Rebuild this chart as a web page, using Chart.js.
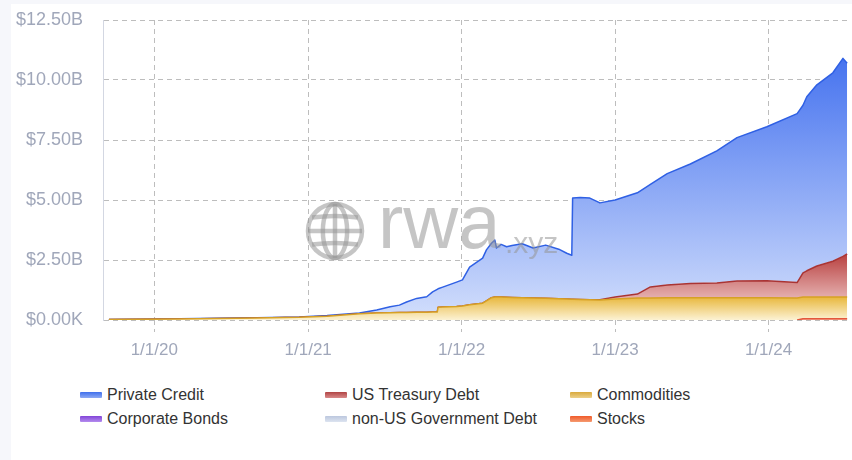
<!DOCTYPE html>
<html>
<head>
<meta charset="utf-8">
<title>RWA market cap</title>
<script src="https://cdn.jsdelivr.net/npm/chart.js@4.4.1/dist/chart.umd.min.js"></script>
<style>
  html, body { margin: 0; padding: 0; background: #f6f7fb; }
  body { width: 852px; height: 460px; overflow: hidden; position: relative; font-family: "Liberation Sans", Arial, sans-serif; }
  #card { position: absolute; left: 11px; top: 4px; right: 0; bottom: 0; background: #fff; }
  #chart { position: absolute; left: 0; top: 0; }
  #legend { position: absolute; left: 69px; top: 382px; display: grid; grid-template-columns: 245px 245px 245px; row-gap: 6px; }
  .item { display: flex; align-items: center; height: 18px; font-size: 16px; color: #333; white-space: nowrap; }
  .sw { width: 22px; height: 6px; margin-right: 5px; border-radius: 1px; }
</style>
</head>
<body>
<div id="card">
  <canvas id="chart" width="841" height="366"></canvas>
  <div id="legend"></div>
</div>
<script>
// snapshot dates (shared x values so the series can be stacked)
const dates = [
  "2019-09-15", "2019-12-01", "2020-03-01", "2020-06-01", "2020-09-01", "2020-12-11",
  "2021-02-15", "2021-05-03", "2021-06-13", "2021-07-15", "2021-08-06", "2021-08-23",
  "2021-09-16", "2021-10-10", "2021-10-24", "2021-11-04", "2021-11-06", "2021-11-17",
  "2021-12-20", "2022-01-03", "2022-01-20", "2022-02-20", "2022-03-01", "2022-03-13",
  "2022-03-21", "2022-03-25", "2022-04-05", "2022-04-18", "2022-05-01", "2022-05-25",
  "2022-06-20", "2022-07-20", "2022-08-20", "2022-09-08", "2022-09-20", "2022-09-22",
  "2022-10-10", "2022-11-02", "2022-11-26", "2023-01-01", "2023-02-23", "2023-03-26",
  "2023-05-05", "2023-06-29", "2023-08-31", "2023-10-18", "2023-12-28", "2024-03-09",
  "2024-03-23", "2024-04-01", "2024-04-25", "2024-06-02", "2024-06-26", "2024-07-06"
];

// values in $B, one per date
const stocks = [
  0, 0, 0, 0, 0, 0, 0, 0, 0, 0, 0, 0, 0, 0, 0, 0, 0, 0,
  0, 0, 0, 0, 0, 0, 0, 0, 0, 0, 0, 0, 0, 0, 0, 0, 0, 0,
  0, 0, 0, 0, 0, 0, 0, 0, 0, 0, 0, 0, 0.05, 0.05, 0.05, 0.05, 0.05, 0.05
];
const corporateBonds = [
  0, 0, 0, 0, 0, 0, 0, 0, 0, 0, 0, 0, 0, 0, 0, 0, 0, 0,
  0, 0, 0, 0, 0, 0, 0, 0, 0, 0, 0, 0, 0, 0, 0, 0, 0, 0,
  0, 0, 0, 0, 0, 0, 0, 0, 0, 0, 0, 0, 0, 0, 0, 0, 0, 0
];
const commodities = [
  0.02, 0.03, 0.045, 0.06, 0.08, 0.11, 0.16, 0.26, 0.29, 0.30, 0.31, 0.31,
  0.32, 0.32, 0.33, 0.33, 0.53, 0.54, 0.56, 0.58, 0.64, 0.70, 0.80, 0.93,
  0.96, 0.96, 0.96, 0.95, 0.94, 0.93, 0.92, 0.91, 0.89, 0.87, 0.86, 0.86,
  0.85, 0.84, 0.83, 0.88, 0.92, 0.92, 0.93, 0.93, 0.93, 0.93, 0.93, 0.92,
  0.91, 0.91, 0.91, 0.91, 0.91, 0.91
];
const usTreasury = [
  0, 0, 0, 0, 0, 0, 0, 0, 0, 0, 0, 0, 0, 0, 0, 0, 0, 0,
  0, 0, 0, 0, 0, 0, 0, 0, 0, 0, 0, 0, 0, 0, 0, 0, 0, 0,
  0, 0, 0.01, 0.08, 0.16, 0.46, 0.53, 0.59, 0.61, 0.69, 0.71, 0.64,
  1.00, 1.09, 1.29, 1.49, 1.69, 1.79
];
const nonUsGov = [
  0, 0, 0, 0, 0, 0, 0, 0, 0, 0, 0, 0, 0, 0, 0, 0, 0, 0,
  0, 0, 0, 0, 0, 0, 0, 0, 0, 0, 0, 0, 0.02, 0.02, 0.02, 0.02, 0.02, 0.02,
  0.02, 0.02, 0.02, 0.02, 0.02, 0.02, 0.02, 0.02, 0.02, 0.02, 0.02, 0.02,
  0.02, 0.02, 0.02, 0.02, 0.02, 0.02
];
const privateCredit = [
  0, 0, 0.005, 0.01, 0.01, 0.02, 0.03, 0.03, 0.13, 0.25, 0.31, 0.44,
  0.58, 0.65, 0.84, 0.95, 0.77, 0.83, 1.02, 1.09, 1.56, 1.88, 2.12, 2.27,
  2.37, 2.04, 2.19, 2.10, 2.16, 2.25, 2.06, 2.19, 2.04, 1.89, 1.82, 4.20,
  4.23, 4.22, 4.02, 4.02, 4.20, 4.25, 4.62, 4.96, 5.49, 5.96, 6.39, 7.02,
  6.97, 7.23, 7.53, 7.83, 8.23, 7.93
];

const yTicks = [0, 2.5, 5, 7.5, 10, 12.5];
const xTickYears = [2020, 2021, 2022, 2023, 2024];
const legendOrder = ["Private Credit", "US Treasury Debt", "Commodities", "Corporate Bonds", "non-US Government Debt", "Stocks"];

const tickColor = "#a0a7ba";
const gridColor = "#bdbdbd";
const fontFamily = "'Liberation Sans', Arial, sans-serif";

// bottom -> top of the stack
const stackSeries = [stocks, corporateBonds, commodities, usTreasury, nonUsGov, privateCredit];

function stackedPeak(i) {
  let peak = 0;
  for (let j = 0; j < dates.length; j++) {
    let s = 0;
    for (let k = 0; k <= i; k++) s += stackSeries[k][j];
    peak = Math.max(peak, s);
  }
  return peak;
}

// vertical gradient from the top of a band down to the baseline
function bandFill(i, top, bottom) {
  return (ctx) => {
    const chart = ctx.chart;
    const area = chart.chartArea;
    if (!area) return bottom;
    const y0 = chart.scales.y.getPixelForValue(stackedPeak(i));
    const g = chart.ctx.createLinearGradient(0, y0, 0, area.bottom);
    g.addColorStop(0, top);
    g.addColorStop(1, bottom);
    return g;
  };
}

// stocks sit on the baseline: only stroke where they have a value
const hideZero = {
  borderColor: (ctx) => {
    const d = ctx.chart.data.datasets[ctx.datasetIndex].data;
    return (d[ctx.p0DataIndex].y === 0 && d[ctx.p1DataIndex].y === 0) ? "rgba(0,0,0,0)" : undefined;
  }
};

function toPoints(values) {
  return values.map((v, i) => ({ x: Date.parse(dates[i]), y: v }));
}

function makeSet(label, values, i, line, top, bottom, swatch, width) {
  return {
    label: label,
    data: toPoints(values),
    borderColor: line,
    borderWidth: width,
    backgroundColor: bandFill(i, top, bottom),
    fill: i === 0 ? "origin" : "-1",
    pointRadius: 0,
    tension: 0,
    swatch: swatch
  };
}

const datasets = [
  makeSet("Stocks", stocks, 0, "#e4573c", "#f08a6a", "#fbd9cc", "linear-gradient(#f05a2a,#f59a70)", 1.5),
  makeSet("Corporate Bonds", corporateBonds, 1, "#8a4fe0", "#a77cec", "#e6dbfb", "linear-gradient(#8244d8,#b48cee)", 0),
  makeSet("Commodities", commodities, 2, "#d6a125", "#e8b73c", "#fcf2d4", "linear-gradient(#d9a93c,#ecd08a)", 1.5),
  makeSet("US Treasury Debt", usTreasury, 3, "#a93434", "#b8403f", "#fbe7e7", "linear-gradient(#b04444,#d98a8a)", 1.5),
  makeSet("non-US Government Debt", nonUsGov, 4, "#c3cde6", "#c8d3ee", "#eef2fb", "linear-gradient(#bcc7de,#dde4f0)", 0),
  makeSet("Private Credit", privateCredit, 5, "#2f60e4", "#4673ef", "#d3dffc", "linear-gradient(#3f6fec,#8eaaf4)", 1.5)
];
datasets[0].segment = hideZero;

function fmtDate(ms) {
  const d = new Date(ms);
  return (d.getUTCMonth() + 1) + "/" + d.getUTCDate() + "/" + String(d.getUTCFullYear()).slice(2);
}

// rwa.xyz mark drawn over the plot
const watermark = {
  id: "watermark",
  afterDatasetsDraw(chart) {
    const c = chart.ctx;
    c.save();
    c.strokeStyle = "rgba(150,150,150,0.55)";
    c.fillStyle = "rgba(150,150,150,0.55)";
    c.lineWidth = 4.5;
    const cx = 324, cy = 227, r = 27;
    c.beginPath(); c.arc(cx, cy, r, 0, Math.PI * 2); c.stroke();
    c.beginPath(); c.ellipse(cx, cy, r * 0.45, r, 0, 0, Math.PI * 2); c.stroke();
    c.beginPath(); c.moveTo(cx, cy - r); c.lineTo(cx, cy + r); c.stroke();
    c.beginPath(); c.moveTo(cx - r, cy); c.lineTo(cx + r, cy); c.stroke();
    c.beginPath(); c.moveTo(cx - r * 0.85, cy - r * 0.5); c.quadraticCurveTo(cx, cy - r * 0.62, cx + r * 0.85, cy - r * 0.5); c.stroke();
    c.beginPath(); c.moveTo(cx - r * 0.85, cy + r * 0.5); c.quadraticCurveTo(cx, cy + r * 0.38, cx + r * 0.85, cy + r * 0.5); c.stroke();
    c.font = "76px " + fontFamily;
    c.textBaseline = "alphabetic";
    c.fillText("rwa", 367, 244);
    c.font = "30px " + fontFamily;
    c.fillText(".xyz", 494, 249);
    c.restore();
  }
};

const chart = new Chart(document.getElementById("chart"), {
  type: "line",
  data: { datasets: datasets },
  plugins: [watermark],
  options: {
    responsive: false,
    animation: false,
    layout: { padding: { top: 16, right: 4, left: 0, bottom: 0 } },
    plugins: { legend: { display: false }, tooltip: { enabled: false } },
    elements: { line: { borderJoinStyle: "round" } },
    scales: {
      x: {
        type: "linear",
        min: Date.parse("2019-09-01"),
        max: Date.parse("2024-07-08"),
        afterBuildTicks: (axis) => {
          axis.ticks = xTickYears.map((y) => ({ value: Date.UTC(y, 0, 1) }));
        },
        afterFit: (axis) => { axis.height = 50; },
        ticks: {
          callback: (v) => fmtDate(v),
          color: tickColor,
          font: { family: fontFamily, size: 17 },
          padding: 8,
          maxRotation: 0,
          autoSkip: false
        },
        grid: {
          color: gridColor,
          tickColor: gridColor,
          tickLength: 12,
          tickBorderDash: [5, 4],
          drawTicks: true
        },
        border: { display: false, dash: [5, 4] }
      },
      y: {
        type: "linear",
        stacked: true,
        min: 0,
        max: 12.5,
        afterBuildTicks: (axis) => {
          axis.ticks = yTicks.map((v) => ({ value: v }));
        },
        // fixed axis width; the label gap should not push the plot down
        afterFit: (axis) => {
          axis.width = 92;
          axis.paddingTop = 0;
          axis.paddingBottom = 0;
        },
        ticks: {
          callback: (v) => v === 0 ? "$0.00K" : "$" + v.toFixed(2) + "B",
          color: tickColor,
          font: { family: fontFamily, size: 18 },
          padding: 20
        },
        grid: { color: gridColor, drawTicks: false },
        border: { display: true, color: "#d3d7e2", width: 1, dash: [5, 4] }
      }
    }
  }
});

// three-column legend under the plot
const legend = document.getElementById("legend");
legendOrder.forEach((name) => {
  const ds = datasets.find((d) => d.label === name);
  const item = document.createElement("div");
  item.className = "item";
  item.innerHTML = `<span class="sw" style="background:${ds.swatch}"></span><span>${name}</span>`;
  legend.appendChild(item);
});
</script>
</body>
</html>
